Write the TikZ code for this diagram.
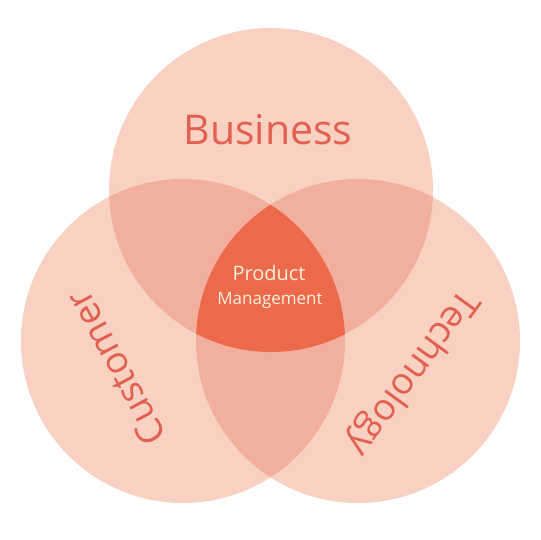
\documentclass[tikz,border=0pt]{standalone}
\usepackage{fontspec}
\setmainfont{Open Sans}
\definecolor{bgc}{HTML}{FFFFFF}
\definecolor{lightc}{HTML}{F8D1C3}
\definecolor{midc}{HTML}{F2AF9D}
\definecolor{darkc}{HTML}{EC6A4B}
\definecolor{txtc}{HTML}{E2604F}
\definecolor{cream}{HTML}{FFF1DC}
\begin{document}
\begin{tikzpicture}[x=1pt,y=-1pt,
  lbl/.style={text=txtc,inner sep=0pt},
  pm/.style={text=cream,inner sep=0pt}]
\useasboundingbox (0,0) rectangle (540,540);
\fill[bgc] (0,0) rectangle (540,540);
\def\R{162}
\coordinate (T) at (271,190);
\coordinate (L) at (183,341);
\coordinate (Rc) at (358,341);
% base circles
\fill[lightc] (T) circle (\R);
\fill[lightc] (L) circle (\R);
\fill[lightc] (Rc) circle (\R);
% pairwise overlaps
\begin{scope}
  \clip (T) circle (\R);
  \fill[midc] (L) circle (\R);
  \fill[midc] (Rc) circle (\R);
\end{scope}
\begin{scope}
  \clip (L) circle (\R);
  \fill[midc] (Rc) circle (\R);
\end{scope}
% triple overlap
\begin{scope}
  \clip (T) circle (\R);
  \clip (L) circle (\R);
  \fill[darkc] (Rc) circle (\R);
\end{scope}
% labels
\node[lbl,anchor=base,font=\fontsize{41}{41}\selectfont] (bus) at (268,145) {Business};
\node[lbl,rotate=118,font=\fontsize{37}{37}\selectfont] (cus) at (116,368) {Customer};
\node[lbl,rotate=-126,font=\fontsize{37}{37}\selectfont] (tec) at (412,372) {Technology};
\node[pm,font=\fontsize{20}{20}\selectfont] (prod) at (269,273) {Product};
\node[pm,font=\fontsize{17}{17}\selectfont] (mgmt) at (270,300) {Management};
\end{tikzpicture}
\end{document}
